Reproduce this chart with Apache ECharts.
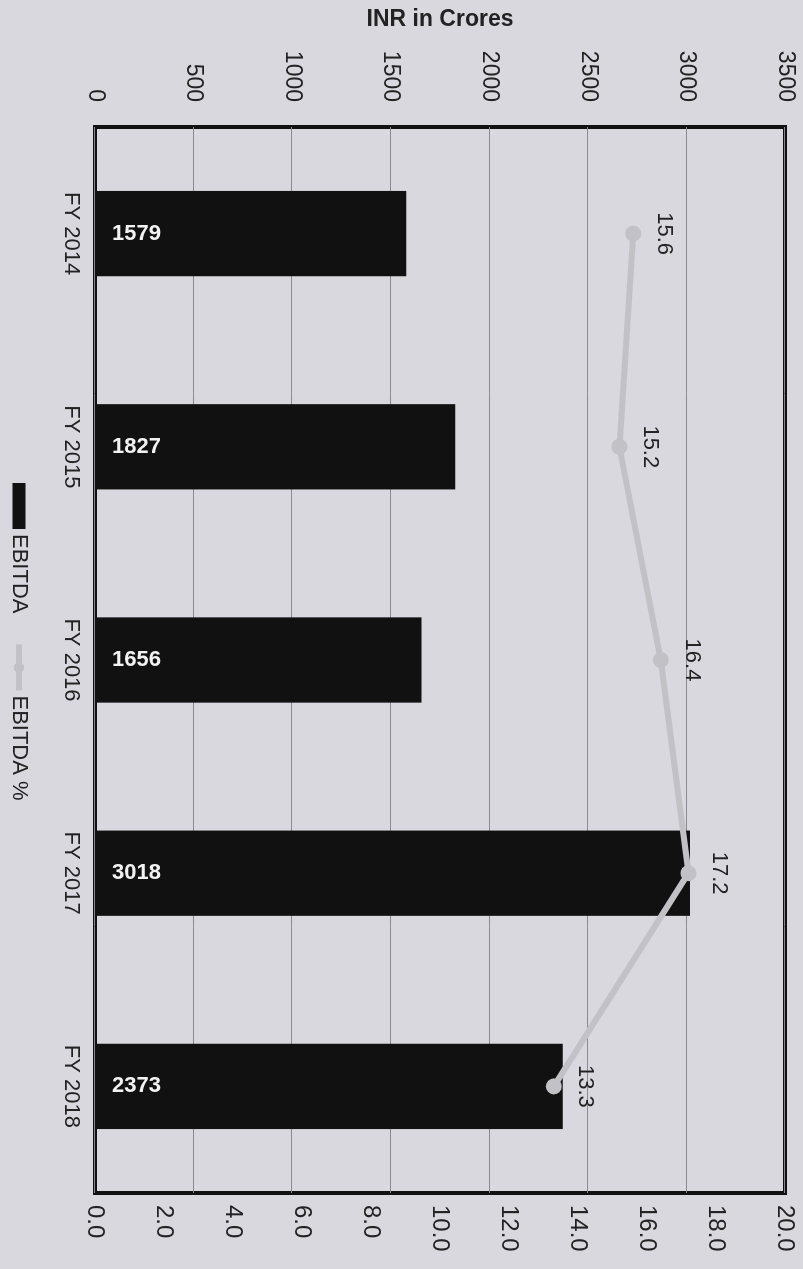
<!DOCTYPE html>
<html>
<head>
<meta charset="utf-8">
<script src="https://cdn.jsdelivr.net/npm/echarts@6/dist/echarts.min.js"></script>
<style>
  html, body { margin: 0; padding: 0; width: 803px; height: 1269px; overflow: hidden; background: #d9d8de; }
  #chart {
    position: absolute; left: 0; top: 0;
    width: 1269px; height: 803px;
    transform-origin: 0 0;
    transform: translate(803px, 0) rotate(90deg);
  }
</style>
</head>
<body>
<div id="chart"></div>
<script>
const categories = ['FY 2014', 'FY 2015', 'FY 2016', 'FY 2017', 'FY 2018'];
const ebitda = [1579, 1827, 1656, 3018, 2373];
const ebitdaPct = [15.6, 15.2, 16.4, 17.2, 13.3];
const leftAxisName = 'INR in Crores';

const chart = echarts.init(document.getElementById('chart'));
const font = 'Liberation Sans, Arial, sans-serif';
chart.setOption({
  backgroundColor: '#d9d8de',
  textStyle: { fontFamily: font },
  grid: {
    left: 125, right: 76, top: 18, bottom: 95,
    show: true, borderColor: '#111', borderWidth: 4, backgroundColor: 'transparent'
  },
  legend: {
    top: 768, left: 478,
    itemWidth: 46, itemHeight: 13, itemGap: 28,
    textStyle: { fontSize: 22, color: '#222', fontFamily: font },
    data: [
      { name: 'EBITDA', icon: 'rect' },
      { name: 'EBITDA %', lineStyle: { width: 6, color: '#c2c1c6' } }
    ]
  },
  xAxis: {
    type: 'category',
    data: categories,
    axisLine: { show: false },
    axisTick: { show: false },
    axisLabel: { fontSize: 22, color: '#222', margin: 13, fontFamily: font }
  },
  yAxis: [
    {
      type: 'value', min: 0, max: 3500, interval: 500,
      name: leftAxisName, nameLocation: 'middle', nameGap: 96,
      nameTextStyle: { fontSize: 23, fontWeight: 'bold', color: '#222', fontFamily: font },
      axisLine: { show: false }, axisTick: { show: false },
      axisLabel: { fontSize: 23, color: '#222', margin: 25, fontFamily: font,
        formatter: v => String(v) },
      splitLine: { lineStyle: { color: '#8a8a90', width: 1 } }
    },
    {
      type: 'value', min: 0, max: 20, interval: 2,
      axisLine: { show: false }, axisTick: { show: false },
      axisLabel: { fontSize: 24, color: '#222', margin: 12, fontFamily: font,
        formatter: v => v.toFixed(1) },
      splitLine: { show: false }
    }
  ],
  series: [
    {
      name: 'EBITDA', type: 'bar', data: ebitda, barWidth: '40%',
      itemStyle: { color: '#111111' },
      label: { show: true, position: 'insideBottom', distance: 17,
        rotate: 90, align: 'left', verticalAlign: 'middle',
        color: '#f2f2f2', fontWeight: 'bold', fontSize: 22, fontFamily: font }
    },
    {
      name: 'EBITDA %', type: 'line', yAxisIndex: 1, data: ebitdaPct,
      symbol: 'circle', symbolSize: 16,
      lineStyle: { color: '#c2c1c6', width: 6 },
      itemStyle: { color: '#c2c1c6' },
      label: { show: true, position: 'top', distance: 12,
        color: '#222', fontSize: 22, fontFamily: font }
    }
  ]
});
</script>
</body>
</html>
